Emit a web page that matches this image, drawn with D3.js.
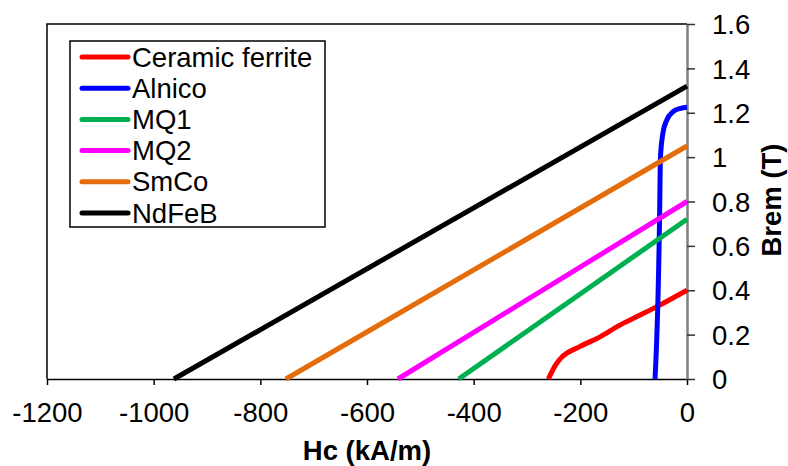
<!DOCTYPE html>
<html lang="en">
<head>
<meta charset="UTF-8">
<script src="https://d3js.org/d3.v7.min.js"></script>
<title>Demagnetisation curves</title>
<style>
    body { margin: 0; background: white; }
    svg { font-family: "Liberation Sans", Arial, sans-serif; }
</style>
</head>
<body>
<script>

// series names and colours
var names = ["Ceramic ferrite", "Alnico", "MQ1", "MQ2", "SmCo", "NdFeB"];
var colors = ["#ff0000", "#0000ff", "#00b050", "#ff00ff", "#e46c0a", "#000000"];

// Hc (kA/m) and Brem (T)
var ferriteH = [-260, -246, -236, -201, -163, -126, -88, -51, 0];
var ferriteB = [0, 0.065, 0.095, 0.146, 0.19, 0.243, 0.288, 0.333, 0.40];
var alnicoH = [-60, -51, -50, -45, -38, -26, -12, 0];
var alnicoB = [0, 0.8, 0.99, 1.11, 1.167, 1.205, 1.22, 1.225];
var mq1H = [-428, 0], mq1B = [0, 0.72];
var mq2H = [-542, 0], mq2B = [0, 0.80];
var smcoH = [-752, 0], smcoB = [0, 1.05];
var ndfebH = [-962, 0], ndfebB = [0, 1.32];

var xTicks = [-1200, -1000, -800, -600, -400, -200, 0];
var yTicks = [0, 0.2, 0.4, 0.6, 0.8, 1, 1.2, 1.4, 1.6];

var W = 788, H = 466;
var pl = 47, pr = 687, pt = 24, pb = 379;
var fs = 27.5;

var svg = d3.select("body").append("svg")
    .attr("width", W).attr("height", H);

var x = d3.scaleLinear().domain([-1200, 0]).range([pl, pr]);
var y = d3.scaleLinear().domain([0, 1.6]).range([pb, pt]);

// plot border (top + left)
svg.append("path")
    .attr("d", "M" + pl + "," + pb + "V" + pt + "H" + pr)
    .attr("fill", "none").attr("stroke", "#000").attr("stroke-width", 1.5);

var series = [
    [ferriteH, ferriteB],
    [alnicoH, alnicoB],
    [mq1H, mq1B],
    [mq2H, mq2B],
    [smcoH, smcoB],
    [ndfebH, ndfebB]
];

var line = d3.line()
    .x(function (d) { return x(d[0]); })
    .y(function (d) { return y(d[1]); })
    .curve(d3.curveMonotoneX);

// x axis
var xAxis = d3.axisBottom(x).tickValues(xTicks).tickSize(6).tickSizeOuter(0)
    .tickFormat(function (d) { return String(d); });
var gx = svg.append("g")
    .attr("transform", "translate(0," + pb + ")")
    .call(xAxis);
gx.select(".domain").attr("stroke", "#000").attr("stroke-width", 1.5);
gx.selectAll(".tick line").attr("stroke", "#000").attr("stroke-width", 1.5);
gx.selectAll(".tick text")
    .attr("font-size", fs).attr("fill", "#000").attr("dy", null).attr("y", 43);

// y axis on the right
var yAxis = d3.axisRight(y).tickValues(yTicks).tickSize(8).tickSizeOuter(0)
    .tickFormat(function (d) { return String(+d.toFixed(1)); });
var gy = svg.append("g")
    .attr("transform", "translate(" + pr + ",0)")
    .call(yAxis);
gy.select(".domain").attr("stroke", "#808080").attr("stroke-width", 2.5);
gy.selectAll(".tick line").attr("stroke", "#333").attr("stroke-width", 1.5);
gy.selectAll(".tick text")
    .attr("font-size", fs).attr("fill", "#000").attr("x", 25).attr("dy", "0.35em");

// curves
svg.append("g").selectAll("path")
    .data(series)
    .enter()
    .append("path")
    .attr("d", function (s) { return line(s[0].map(function (h, i) { return [h, s[1][i]]; })); })
    .attr("fill", "none")
    .attr("stroke", function (s, i) { return colors[i]; })
    .attr("stroke-width", 5)
    .attr("stroke-linejoin", "round");

// axis titles
svg.append("text")
    .attr("x", 367).attr("y", 460)
    .attr("text-anchor", "middle")
    .attr("font-size", fs).attr("font-weight", "bold")
    .text("Hc (kA/m)");

svg.append("text")
    .attr("transform", "translate(781,200) rotate(-90)")
    .attr("text-anchor", "middle")
    .attr("font-size", fs).attr("font-weight", "bold")
    .text("Brem (T)");

// legend
var legend = svg.append("g");
legend.append("rect")
    .attr("x", 70).attr("y", 41).attr("width", 255).attr("height", 186)
    .attr("fill", "white").attr("stroke", "#000").attr("stroke-width", 1.5);

var rows = legend.selectAll("g.row")
    .data(names)
    .enter()
    .append("g")
    .attr("class", "row")
    .attr("transform", function (d, i) { return "translate(0," + (57 + i * 31.2) + ")"; });

rows.append("line")
    .attr("x1", 82).attr("x2", 128)
    .attr("stroke", function (d, i) { return colors[i]; })
    .attr("stroke-width", 5).attr("stroke-linecap", "round");

rows.append("text")
    .attr("x", 132).attr("dy", "0.35em")
    .attr("font-size", fs)
    .text(function (d) { return d; });

</script>
</body>
</html>
